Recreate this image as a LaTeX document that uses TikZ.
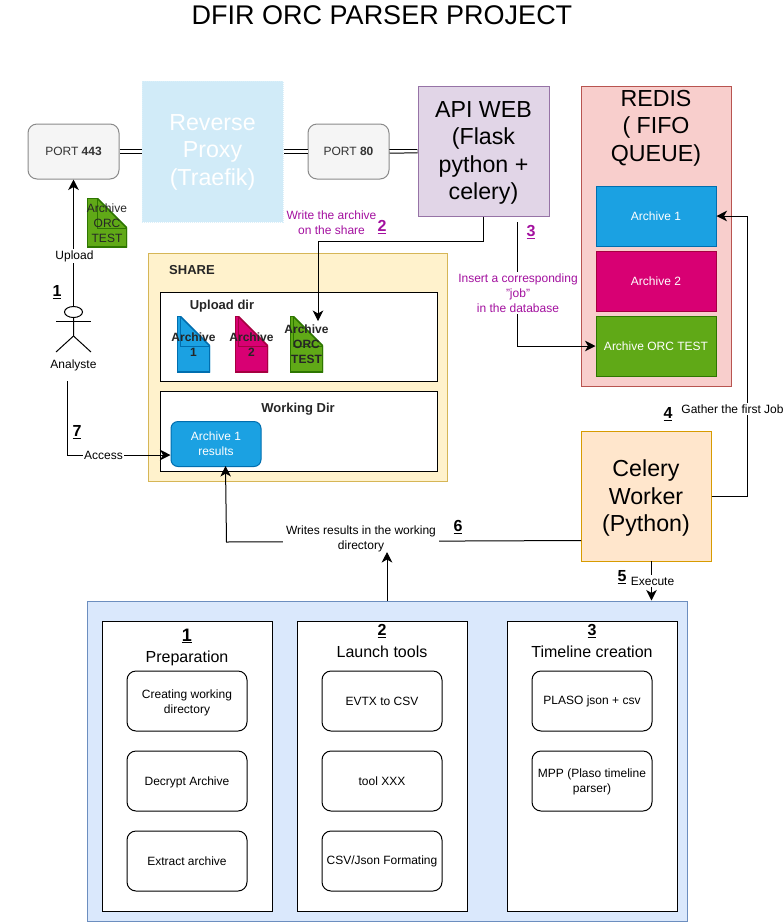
\documentclass[tikz,border=0pt]{standalone}
\usepackage{fontspec}
\setmainfont{Liberation Sans}
\usetikzlibrary{shapes, arrows.meta}
\definecolor{portFill}{HTML}{F5F5F5}
\definecolor{portDraw}{HTML}{8A8A8A}
\definecolor{proxyFill}{HTML}{D1EBF8}
\definecolor{apiFill}{HTML}{E1D5E7}
\definecolor{apiDraw}{HTML}{9673A6}
\definecolor{redisFill}{HTML}{F8CECC}
\definecolor{redisDraw}{HTML}{B85450}
\definecolor{celeryFill}{HTML}{FFE6CC}
\definecolor{celeryDraw}{HTML}{D79B00}
\definecolor{shareFill}{HTML}{FFF2CC}
\definecolor{shareDraw}{HTML}{D6B656}
\definecolor{mainFill}{HTML}{DAE8FC}
\definecolor{mainDraw}{HTML}{6C8EBF}
\definecolor{blueFill}{HTML}{1BA1E2}
\definecolor{blueDraw}{HTML}{006EAF}
\definecolor{pinkFill}{HTML}{D80073}
\definecolor{pinkDraw}{HTML}{A50040}
\definecolor{greenFill}{HTML}{60A917}
\definecolor{greenDraw}{HTML}{2D7600}
\definecolor{purpleTxt}{HTML}{A3109F}
\newcommand{\smallfont}{\fontsize{12}{15}\selectfont}
\newcommand{\headfont}{\fontsize{13}{15}\selectfont\bfseries}
\newcommand{\midfont}{\fontsize{16}{20}\selectfont}
\newcommand{\bigfont}{\fontsize{23.2}{27.5}\selectfont}
\newcommand{\stepnum}[1]{\underline{\textbf{#1}}}
\tikzstyle{boxes} = [rectangle, draw=black, line width=1pt, inner sep=0pt, align=center, font=\smallfont]
\tikzstyle{bigbox} = [boxes, font=\bigfont]
\tikzstyle{port} = [boxes, rounded corners=9pt, fill=portFill, draw=portDraw, text=black!80, minimum height=55pt]
\tikzstyle{jobbox} = [boxes, minimum width=120pt, minimum height=60pt, text=white]
\tikzstyle{taskbox} = [boxes, rounded corners=9pt, minimum width=120pt, minimum height=60pt, fill=white]
\tikzstyle{groupbox} = [boxes, minimum width=170pt, minimum height=290pt, fill=white]
\tikzstyle{dirbox} = [boxes, minimum width=277pt, fill=white]
\tikzstyle{txt} = [inner sep=0pt, align=center, font=\smallfont]
\tikzstyle{whitetxt} = [txt, fill=white, inner sep=1.5pt]
\tikzstyle{purpletxt} = [whitetxt, text=purpleTxt]
\tikzstyle{stepmark} = [inner sep=0pt, font=\midfont]
\tikzstyle{headtxt} = [txt, font=\headfont, text=black!85]
\tikzstyle{boldtxt} = [txt, font=\smallfont\bfseries, text=black!85]
\tikzstyle{line} = [line width=1pt]
\tikzstyle{arrow} = [line width=1pt, -{Stealth[length=10.5pt,width=10.5pt,inset=3pt]}]
\tikzstyle{link} = [double, line width=1pt, double distance=2.4pt]
\tikzset{
    archfile/.style n args={3}{
        inner sep=0pt, minimum height=#3,
        path picture={
            \path (path picture bounding box.north east) coordinate (ne) (path picture bounding box.south west) coordinate (sw);
            \filldraw[fill=#1, draw=#2, line width=1.6pt] (sw) -- (sw |- ne) -- ([xshift=-30pt]ne) -- ([yshift=-30pt]ne) -- (ne |- sw) -- cycle;
            \draw[#2, line width=0.7pt] ([xshift=-30pt]ne) -- ([xshift=-30pt,yshift=-30pt]ne) -- ([yshift=-30pt]ne);
        },
    },
}

\begin{document}
\begin{tikzpicture}[x=1pt, y=-1pt]
    \useasboundingbox (0,0) rectangle (784,922);

    \node (title) [txt, font=\fontsize{27}{32}\selectfont] at (382,15) {DFIR ORC PARSER PROJECT};

    % top row
    \node (port443) [port, minimum width=91pt] at (73.5,151.5) {PORT \textbf{443}};
    \node (proxy) [bigbox, draw=proxyFill!80!white, densely dotted, fill=proxyFill, minimum width=141pt, minimum height=141pt] at (212.5,151.5) {};
    \node (proxyLabel) [txt, font=\bigfont, text=white] at (212.5,152) {Reverse\\Proxy\\(Traefik)};
    \node (port80) [port, minimum width=81pt] at (348.5,151.5) {PORT \textbf{80}};
    \node (api) [bigbox, fill=apiFill, draw=apiDraw, minimum width=131pt, minimum height=130pt] at (483.5,151) {};
    \node (apiLabel) [txt, font=\bigfont] at (483.5,153) {API WEB\\(Flask\\python +\\celery)};

    % redis queue
    \node (redis) [boxes, fill=redisFill, draw=redisDraw, minimum width=150pt, minimum height=300pt] at (656,236) {};
    \node (redisTitle) [txt, font=\bigfont] at (656,128) {REDIS\\( FIFO\\QUEUE)};
    \node (jobA) [jobbox, fill=blueFill, draw=blueDraw] at (656,216) {Archive 1};
    \node (jobB) [jobbox, fill=pinkFill, draw=pinkDraw] at (656,281) {Archive 2};
    \node (jobC) [jobbox, fill=greenFill, draw=greenDraw] at (656,346) {Archive ORC TEST};

    \node (celery) [bigbox, fill=celeryFill, draw=celeryDraw, minimum width=130pt, minimum height=130pt] at (646,496) {};
    \node (celeryLabel) [txt, font=\bigfont] at (646,498) {Celery\\Worker\\(Python)};

    % share
    \node (share) [boxes, fill=shareFill, draw=shareDraw, minimum width=299pt, minimum height=228pt] at (297.5,367) {};
    \node (shareTitle) [headtxt] at (192,270.5) {SHARE};
    \node (uploadDir) [dirbox, minimum height=89pt] at (298.5,336.5) {};
    \node (uploadTitle) [headtxt] at (222,306) {Upload dir};
    \node (workDir) [dirbox, minimum height=80pt] at (298.5,431) {};
    \node (workTitle) [headtxt] at (298,409) {Working Dir};
    \node (results) [boxes, rounded corners=7pt, fill=blueFill, draw=blueDraw, text=white, minimum width=90pt, minimum height=45pt] at (216,444) {Archive 1\\results};

    % archive files
    \node (sentFile) [archfile={greenFill}{greenDraw}{49pt}, minimum width=40pt] at (107,222.5) {};
    \node (sentLabel) [txt, text=black!85] at (107,223) {Archive\\ORC\\TEST};
    \node (fileA) [archfile={blueFill}{blueDraw}{56pt}, minimum width=33pt] at (193.5,344) {};
    \node (fileALabel) [boldtxt] at (193.5,344.5) {Archive\\1};
    \node (fileB) [archfile={pinkFill}{pinkDraw}{56pt}, minimum width=33pt] at (251.5,344) {};
    \node (fileBLabel) [boldtxt] at (251.5,344.5) {Archive\\2};
    \node (fileC) [archfile={greenFill}{greenDraw}{56pt}, minimum width=33pt] at (306.5,344) {};
    \node (fileCLabel) [boldtxt] at (306.5,344.5) {Archive\\ORC\\TEST};

    % analyst
    \node (analyst) [ellipse, draw=black, line width=1pt, minimum width=18pt, minimum height=11pt, inner sep=0pt] at (73.5,312) {};
    \draw[line] (analyst.south) -- ++(0,18) coordinate (hip) -- ++(-17.5,16);
    \draw[line] (hip) -- ++(17.5,16);
    \draw[line] (56,321) -- (91,321);
    \node (analystLabel) [txt] at (73.5,365) {Analyste};
    \coordinate (accessStart) at (67.5,381);

    % processing
    \node (main) [boxes, fill=mainFill, draw=mainDraw, minimum width=600pt, minimum height=320pt] at (387,761) {};
    \node (prep) [groupbox] at (187,766) {};
    \node (launch) [groupbox] at (382,766) {};
    \node (timeline) [groupbox] at (592,766) {};
    \node (prepMark) [stepmark, font=\fontsize{18}{20}\selectfont] at (187,636) {\stepnum{1}};
    \node (prepTitle) [txt, font=\midfont] at (187,658) {Preparation};
    \node (launchMark) [stepmark] at (382,631) {\stepnum{2}};
    \node (launchTitle) [txt, font=\midfont] at (382,652) {Launch tools};
    \node (timeMark) [stepmark] at (592,631) {\stepnum{3}};
    \node (timeTitle) [txt, font=\midfont] at (592,652) {Timeline creation};

    \node (workDirTask) [taskbox] at (187,701) {};
    \node (workDirLabel) [txt] at (187,702.5) {Creating working\\directory};
    \node (decrypt) [taskbox, text depth=0pt] at (187,781) {Decrypt Archive};
    \node (extract) [taskbox] at (187,861) {Extract archive};
    \node (evtx) [taskbox] at (382,701) {EVTX to CSV};
    \node (toolX) [taskbox] at (382,781) {tool XXX};
    \node (csvJson) [taskbox] at (382,861) {CSV/Json Formating};
    \node (plaso) [taskbox] at (592,701) {PLASO json + csv};
    \node (mpp) [taskbox] at (592,781) {};
    \node (mppLabel) [txt] at (592,782) {MPP (Plaso timeline\\parser)};

    % connectors
    \draw[link] (port443) -- (proxy);
    \draw[link] (proxy) -- (port80);
    \draw[link] (port80) -- (api);

    \draw[arrow] (analyst.north) -- (port443.south -| analyst.north);
    \coordinate (writeBend) at (318,241);
    \coordinate (writeEnd) at (318,321);
    \draw[arrow] (api.south) |- (writeBend) -- (writeEnd);
    \coordinate (insertStart) at (517.5,222);
    \draw[arrow] (insertStart) |- (jobC.west);
    \coordinate (gatherBend) at (747,216);
    \draw[arrow] (celery.east) -| (gatherBend) -- (jobA.east);
    \coordinate (accessBend) at (67.5,455);
    \draw[arrow] (accessStart) -- (accessBend) -- (results.west |- accessBend);
    \coordinate (execFrom) at (651.5,561);
    \draw[arrow] (execFrom) -- (main.north -| execFrom);
    \coordinate (resultOut) at (581,540.5);
    \coordinate (resultBend) at (226.5,542);
    \coordinate (resultIn) at (225.5,466);
    \draw[arrow] (resultOut) -- (resultBend) -- (resultIn);

    % connector labels
    \node (uploadLabel) [whitetxt] at (74.5,256) {Upload};
    \node (writeLabel) [txt, text=purpleTxt] at (331.5,222.5) {Write the archive\\on the share};
    \node (insertLabel) [purpletxt] at (518,293) {Insert a corresponding\\\char34 job\char34\\in the database};
    \node (gatherLabel) [whitetxt] at (732.5,409) {Gather the first Job};
    \node (accessLabel) [whitetxt] at (103.5,455) {Access};
    \node (execLabel) [whitetxt] at (652.5,581) {Execute};
    \node (writesLabel) [whitetxt, inner xsep=3pt, inner ysep=2pt] at (361,538.5) {Writes results in the working\\directory};
    \coordinate (mainOut) at (387,552);
    \draw[arrow] (main.north -| mainOut) -- (mainOut);

    % step numbers
    \node (stepOne) [stepmark] at (57,292) {\stepnum{1}};
    \node (stepTwo) [stepmark, text=purpleTxt] at (382,227) {\stepnum{2}};
    \node (stepThree) [stepmark, text=purpleTxt] at (531,232) {\stepnum{3}};
    \node (stepFour) [stepmark] at (668,414) {\stepnum{4}};
    \node (stepFive) [stepmark] at (622,577) {\stepnum{5}};
    \node (stepSix) [stepmark] at (458,527) {\stepnum{6}};
    \node (stepSeven) [stepmark] at (77,432) {\stepnum{7}};
\end{tikzpicture}
\end{document}
